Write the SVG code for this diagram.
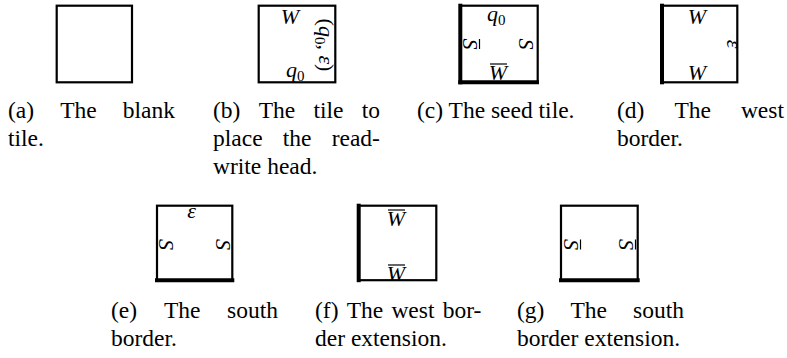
<svg xmlns="http://www.w3.org/2000/svg" width="787" height="358" viewBox="0 0 787 358">
<style>
.tile{fill:none;stroke:#000;stroke-width:2.2}
.edge{stroke:#000;stroke-width:4}
.cap{font-family:"Liberation Serif","Times New Roman",serif;font-size:23.5px;fill:#000}
.m{font-family:"Liberation Serif","Times New Roman",serif;font-size:22px;font-style:italic;fill:#000}
.n{font-style:normal}
.sub{font-style:normal;font-size:15px}
.bar{stroke:#000;stroke-width:1.2}
</style>
<rect width="787" height="358" fill="#fff"/>

<g id="tile-a">
<rect class="tile" x="56.7" y="5.7" width="75.3" height="76.6"/>
</g>

<g id="tile-b">
<rect class="tile" x="258.7" y="5.7" width="76.6" height="76.6"/>
<text class="m" x="290" y="24" text-anchor="middle">W</text>
<text class="m" x="286" y="77">q<tspan class="sub" dy="4">0</tspan></text>
<g transform="translate(319,45) rotate(90)">
<text class="m" x="0" y="0" text-anchor="middle"><tspan class="n">(</tspan>q<tspan class="sub" dy="4">0</tspan><tspan class="n" dy="-4">, </tspan>ε<tspan class="n">)</tspan></text>
</g>
</g>

<g id="tile-c">
<rect class="tile" x="460.3" y="5.7" width="77.4" height="76.6"/>
<line class="edge" x1="460.3" y1="3.7" x2="460.3" y2="84.3"/>
<line class="edge" x1="458.3" y1="82.3" x2="539" y2="82.3"/>
<text class="m" x="487" y="21">q<tspan class="sub" dy="4">0</tspan></text>
<text class="m" x="498" y="80" text-anchor="middle">W</text>
<line class="bar" x1="490" y1="64" x2="507" y2="64"/>
<g transform="translate(463,44) rotate(90)">
<text class="m" x="0" y="0" text-anchor="middle">S</text>
<line class="bar" x1="-5" y1="-16.5" x2="5" y2="-16.5"/>
</g>
<g transform="translate(519,44) rotate(90)">
<text class="m" x="0" y="0" text-anchor="middle">S</text>
</g>
</g>

<g id="tile-d">
<rect class="tile" x="662" y="5.7" width="75.3" height="76.6"/>
<line class="edge" x1="662" y1="3.7" x2="662" y2="84.3"/>
<text class="m" x="697" y="24" text-anchor="middle">W</text>
<text class="m" x="697" y="80" text-anchor="middle">W</text>
<g transform="translate(727,44) rotate(90)">
<text class="m" x="0" y="0" text-anchor="middle">ε</text>
</g>
</g>

<g id="tile-e">
<rect class="tile" x="157" y="205.7" width="75.3" height="74.5"/>
<line class="edge" x1="155" y1="280.2" x2="234.3" y2="280.2"/>
<text class="m" x="191.5" y="218" text-anchor="middle">ε</text>
<g transform="translate(159,244.5) rotate(90)">
<text class="m" x="0" y="0" text-anchor="middle">S</text>
</g>
<g transform="translate(216,244.5) rotate(90)">
<text class="m" x="0" y="0" text-anchor="middle">S</text>
</g>
</g>

<g id="tile-f">
<rect class="tile" x="358.7" y="205.7" width="77.6" height="74.5"/>
<line class="edge" x1="358.7" y1="203.7" x2="358.7" y2="282.2"/>
<text class="m" x="396" y="226" text-anchor="middle">W</text>
<line class="bar" x1="388" y1="210" x2="405" y2="210"/>
<text class="m" x="396" y="281" text-anchor="middle">W</text>
<line class="bar" x1="388" y1="265" x2="405" y2="265"/>
</g>

<g id="tile-g">
<rect class="tile" x="561" y="205.7" width="76.7" height="74.5"/>
<line class="edge" x1="559" y1="280.2" x2="639.7" y2="280.2"/>
<g transform="translate(564,244.5) rotate(90)">
<text class="m" x="0" y="0" text-anchor="middle">S</text>
<line class="bar" x1="-5" y1="-16.5" x2="5" y2="-16.5"/>
</g>
<g transform="translate(619,244.5) rotate(90)">
<text class="m" x="0" y="0" text-anchor="middle">S</text>
<line class="bar" x1="-5" y1="-16.5" x2="5" y2="-16.5"/>
</g>
</g>

<g id="connectors"></g>

<g id="captions" class="cap">
<text id="cap-a" y="118"><tspan x="8">(a)</tspan><tspan x="60.2">The</tspan><tspan x="122.8">blank</tspan><tspan x="8" y="146">tile.</tspan></text>
<text id="cap-b" y="118"><tspan x="213">(b)</tspan><tspan x="258.7">The</tspan><tspan x="313.5">tile</tspan><tspan x="361.8">to</tspan><tspan x="213" y="146">place</tspan><tspan x="282.8" y="146">the</tspan><tspan x="331.7" y="146">read-</tspan><tspan x="213" y="174">write head.</tspan></text>
<text id="cap-c" x="417" y="118">(c) The seed tile.</text>
<text id="cap-d" y="118"><tspan x="617">(d)</tspan><tspan x="674.4">The</tspan><tspan x="740.9">west</tspan><tspan x="617" y="146">border.</tspan></text>
<text id="cap-e" y="318"><tspan x="111">(e)</tspan><tspan x="163.9">The</tspan><tspan x="227.1">south</tspan><tspan x="111" y="346">border.</tspan></text>
<text id="cap-f" y="318"><tspan x="315">(f)</tspan><tspan x="346.7">The</tspan><tspan x="391.4">west</tspan><tspan x="442.7">bor-</tspan><tspan x="315" y="346">der extension.</tspan></text>
<text id="cap-g" y="318"><tspan x="517">(g)</tspan><tspan x="570.5">The</tspan><tspan x="633.1">south</tspan><tspan x="517" y="346">border extension.</tspan></text>
</g>
</svg>
